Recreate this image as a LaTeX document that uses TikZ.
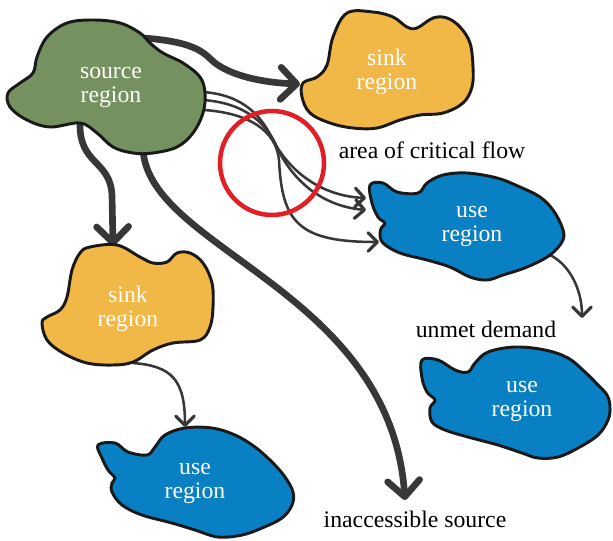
\documentclass[tikz,border=0pt]{standalone}
\usepackage{fontspec}
\setmainfont{Liberation Serif}
\usetikzlibrary{arrows.meta}
\definecolor{srcgreen}{RGB}{118,145,96}
\definecolor{sinkyellow}{RGB}{242,184,71}
\definecolor{useblue}{RGB}{10,128,196}
\definecolor{flowgray}{RGB}{55,55,55}
\definecolor{outline}{RGB}{25,25,25}
\definecolor{critred}{RGB}{226,30,38}
\tikzset{
  blob/.style={draw=outline,line width=2.2pt,line join=round},
  blobtext/.style={text=white,align=center,font=\fontsize{17.8}{18}\selectfont},
  lbl/.style={text=black,anchor=base,font=\fontsize{17.8}{18}\selectfont,inner sep=0pt},
  thickflow/.style={draw=flowgray,line width=5pt,line cap=round,
    -{Straight Barb[length=12pt,width=24pt,round]}},
  thinflow/.style={draw=flowgray,line width=1.9pt,line cap=round,
    -{Straight Barb[length=7pt,width=14pt,round,line width=2.4pt]}},
}
\begin{document}
\begin{tikzpicture}[x=0.75pt,y=-0.75pt]
\useasboundingbox (0,0) rectangle (613,540);
% connector end points
\coordinate (s1) at (143,38);
\coordinate (s2) at (80,125);
\coordinate (s3) at (143,150);
\coordinate (fa0) at (203,92);
\coordinate (fb0) at (203,100);
\coordinate (fc0) at (204,110);
\coordinate (sinkTin) at (300,84);
\coordinate (sinkLin) at (113,246);
\coordinate (inacc) at (405,500);
\coordinate (useRa) at (366,198);
\coordinate (useRb) at (366,210);
\coordinate (useRc) at (379,242);
\coordinate (sinkLout) at (133,363);
\coordinate (useLin) at (185,427);
\coordinate (useRout) at (550,255);
\coordinate (unmet) at (582,318);
% connectors
\draw[thickflow] (s1) .. controls (200,42) and (205,55) .. (215,63) .. controls (235,78) and (270,83) .. (sinkTin);
\draw[thickflow] (s2) .. controls (80,165) and (110,160) .. (112,195) -- (sinkLin);
\draw[thickflow] (s3) .. controls (150,250) and (390,290) .. (inacc);
\draw[thinflow] (fa0) .. controls (245,95) and (262,118) .. (272,138) .. controls (288,170) and (320,196) .. (useRa);
\draw[thinflow] (fb0) .. controls (245,103) and (265,123) .. (275,143) .. controls (290,178) and (320,206) .. (useRb);
\draw[thinflow] (fc0) .. controls (248,113) and (276,130) .. (279,160) .. controls (282,222) and (298,242) .. (useRc);
\draw[thinflow] (sinkLout) .. controls (172,366) and (185,380) .. (useLin);
\draw[thinflow] (useRout) .. controls (570,265) and (582,290) .. (unmet);
% source region
\filldraw[blob,fill=srcgreen] plot[smooth cycle,tension=0.6] coordinates {
 (47,37) (67,23) (93,20) (120,23) (140,33) (150,43) (163,53) (183,63) (200,77) (205,93)
 (203,113) (193,133) (177,147) (153,153) (133,153) (113,147) (97,133) (80,123) (50,127)
 (27,120) (10,107) (8,93) (20,83) (33,73) (37,57)};
\node[blobtext] (src) at (111,87) {source\\region};
% top sink
\filldraw[blob,fill=sinkyellow] plot[smooth cycle,tension=0.6] coordinates {
 (347,13) (373,12) (393,17) (407,27) (417,28) (433,18) (447,18) (460,27) (470,43)
 (473,67) (472,87) (463,103) (443,113) (420,115) (400,120) (377,128) (353,128)
 (330,123) (310,113) (302,97) (303,83) (317,77) (327,65) (333,37)};
\node[blobtext] (sinkT) at (387,72) {sink\\region};
% lower-left sink
\filldraw[blob,fill=sinkyellow] plot[smooth cycle,tension=0.6] coordinates {
 (90,247) (117,245) (140,257) (153,263) (167,262) (177,253) (190,253) (203,263)
 (212,283) (213,307) (210,327) (200,340) (173,343) (153,350) (133,362) (113,365)
 (87,363) (63,353) (47,340) (42,323) (47,317) (60,310) (67,297) (72,270) (80,253)};
\node[blobtext] (sinkL) at (128,309) {sink\\region};
% right use
\filldraw[blob,fill=useblue] plot[smooth cycle,tension=0.6] coordinates {
 (370,185) (383,183) (397,192) (418,193) (427,183) (443,175) (467,173) (497,178)
 (520,187) (540,197) (553,210) (562,227) (563,240) (550,255) (527,267) (503,275)
 (487,280) (470,277) (450,267) (427,260) (400,253) (383,243) (380,233) (382,227)
 (385,223) (378,217) (372,203)};
\node[blobtext] (useR) at (472,226) {use\\region};
% lower-right use
\filldraw[blob,fill=useblue] plot[smooth cycle,tension=0.6] coordinates {
 (422,360) (438,360) (455,370) (468,372) (475,363) (488,352) (515,347) (545,350)
 (568,358) (585,372) (598,385) (607,395) (610,407) (608,420) (598,435) (578,448)
 (558,457) (538,458) (522,453) (498,445) (468,437) (445,430) (432,422) (430,408)
 (435,400) (427,392) (422,378)};
\node[blobtext] (useRR) at (522,401) {use\\region};
% lower-left use
\filldraw[blob,fill=useblue] plot[smooth cycle,tension=0.6] coordinates {
 (98,445) (115,443) (128,452) (147,455) (155,447) (165,435) (185,428) (212,428)
 (235,435) (255,447) (272,462) (285,477) (293,492) (292,505) (282,518) (262,528)
 (242,535) (218,537) (195,530) (172,523) (142,515) (122,505) (112,492) (112,483)
 (115,478) (108,470) (102,458)};
\node[blobtext] (useL) at (195,483) {use\\region};
% critical area
\draw[critred,line width=3.4pt] (272,163) circle[radius=52];
% labels
\node[lbl] (critlbl) at (432,158) {area of critical flow};
\node[lbl] (unmetlbl) at (486,337) {unmet demand};
\node[lbl] (inacclbl) at (415,527) {inaccessible source};
\end{tikzpicture}
\end{document}
